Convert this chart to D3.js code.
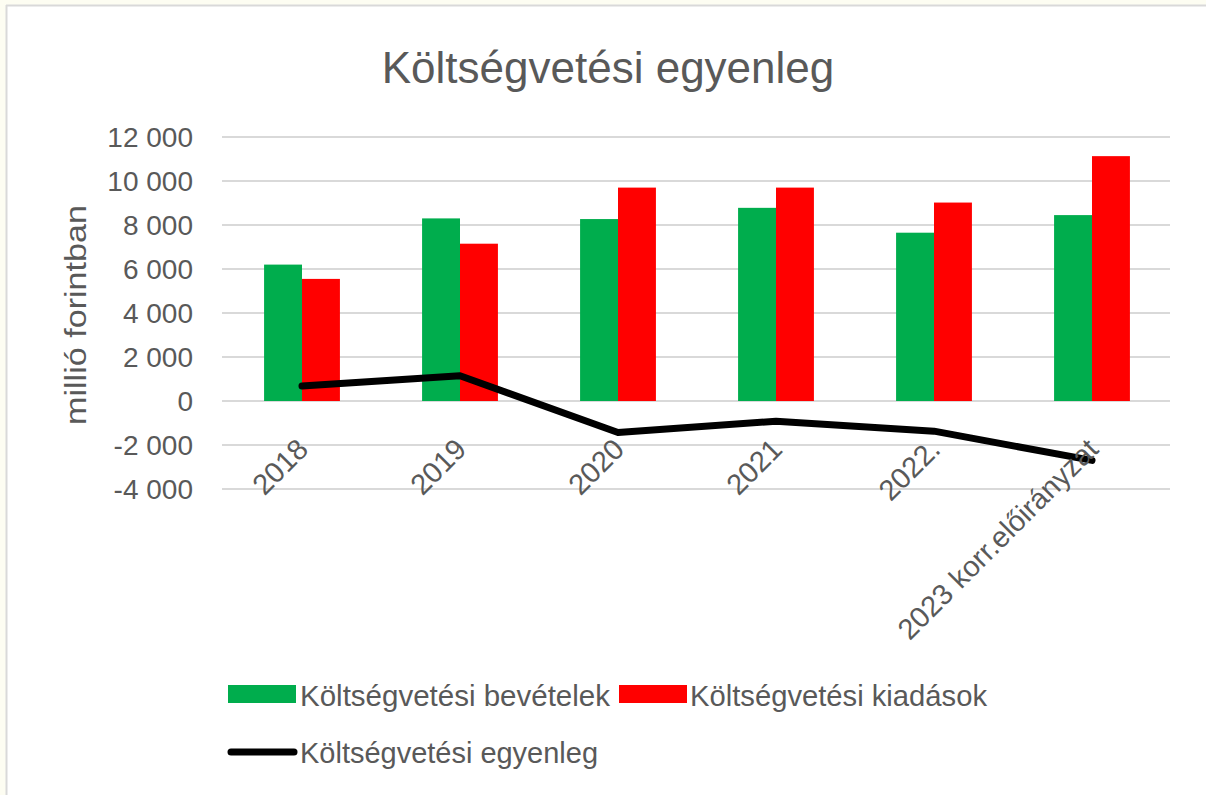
<!DOCTYPE html>
<html>
<head>
<meta charset="utf-8">
<script src="https://cdn.jsdelivr.net/npm/d3@7"></script>
<style>
  html, body { margin: 0; padding: 0; background: #fdfdf2; }
  svg { display: block; }
  text { font-family: "Liberation Sans", Arial, sans-serif; fill: #595959; }
</style>
</head>
<body>
<svg id="chart" width="1206" height="795"></svg>
<script>
const categories = ["2018", "2019", "2020", "2021", "2022.", "2023 korr.előirányzat"];
const revenues = [6200, 8300, 8270, 8780, 7650, 8450];      // Költségvetési bevételek
const expenditures = [5550, 7150, 9700, 9700, 9020, 11130]; // Költségvetési kiadások
const balance = [680, 1150, -1430, -920, -1370, -2700];     // Költségvetési egyenleg
const yTicks = [-4000, -2000, 0, 2000, 4000, 6000, 8000, 10000, 12000];
const seriesNames = ["Költségvetési bevételek", "Költségvetési kiadások", "Költségvetési egyenleg"];
const colors = ["#00ad4d", "#ff0000", "#000000"];
const title = "Költségvetési egyenleg";
const yTitle = "millió forintban";

const svg = d3.select("#chart");

// chart area background + border
svg.append("rect").attr("x", 6).attr("y", 5).attr("width", 1200).attr("height", 790).attr("fill", "#ffffff");
svg.append("line").attr("x1", 6).attr("x2", 1206).attr("y1", 5.5).attr("y2", 5.5).attr("stroke", "#d9d9d9").attr("stroke-width", 2);
svg.append("line").attr("x1", 6.5).attr("x2", 6.5).attr("y1", 5).attr("y2", 795).attr("stroke", "#d9d9d9").attr("stroke-width", 2);

const left = 223, right = 1171;
const y = d3.scaleLinear().domain([-4000, 12000]).range([489, 137]);
const x0 = d3.scaleBand().domain(categories).range([left, right]).paddingInner(0.52).paddingOuter(0.26);
const x1 = d3.scaleBand().domain([0, 1]).range([0, x0.bandwidth()]);

// title
svg.append("text").attr("x", 608).attr("y", 83).attr("text-anchor", "middle")
  .style("font-size", "44px").text(title);

// gridlines
svg.append("g").selectAll("line").data(yTicks).join("line")
  .attr("x1", left - 1).attr("x2", right - 1)
  .attr("y1", d => y(d)).attr("y2", d => y(d))
  .attr("stroke", "#d9d9d9").attr("stroke-width", 2);

// y axis labels
const fmt = d => (d < 0 ? "-" : "") + d3.format(",")(Math.abs(d)).replace(/,/g, " ");
const yAxis = d3.axisLeft(y).tickValues(yTicks).tickFormat(fmt).tickSize(0).tickPadding(0);
const yg = svg.append("g").attr("transform", "translate(193,0)").call(yAxis);
yg.select(".domain").remove();
yg.selectAll("text").style("font-size", "28px").attr("fill", "#595959").attr("dy", "0.34em")
  .style("font-family", "'Liberation Sans', Arial, sans-serif");

// y axis title
svg.append("text").attr("transform", "translate(86,315) rotate(-90)").attr("text-anchor", "middle")
  .style("font-size", "30px").attr("textLength", 220).attr("lengthAdjust", "spacingAndGlyphs").text(yTitle);

// bars
const barData = [revenues, expenditures];
barData.forEach((vals, si) => {
  svg.append("g").selectAll("rect").data(categories).join("rect")
    .attr("x", c => x0(c) + x1(si))
    .attr("width", x1.bandwidth())
    .attr("y", (c, i) => y(Math.max(0, vals[i])))
    .attr("height", (c, i) => Math.abs(y(vals[i]) - y(0)))
    .attr("fill", colors[si]);
});

// balance line
const line = d3.line().x((d, i) => x0(categories[i]) + x0.bandwidth() / 2).y(d => y(d));
svg.append("path").datum(balance).attr("d", line)
  .attr("fill", "none").attr("stroke", colors[2]).attr("stroke-width", 7)
  .attr("stroke-linecap", "round").attr("stroke-linejoin", "round");

// x labels
svg.append("g").selectAll("text").data(categories).join("text")
  .attr("transform", c => `translate(${x0(c) + x0.bandwidth() / 2 + 8},${y(0) + 50}) rotate(-45)`)
  .attr("text-anchor", "end")
  .style("font-size", "29px").text(c => c);

// legend
const lg = svg.append("g");
lg.append("rect").attr("x", 228).attr("y", 685).attr("width", 68).attr("height", 18).attr("fill", colors[0]);
lg.append("text").attr("x", 300).attr("y", 706).style("font-size", "29px")
  .attr("textLength", 310).attr("lengthAdjust", "spacingAndGlyphs").text(seriesNames[0]);
lg.append("rect").attr("x", 619).attr("y", 685).attr("width", 68).attr("height", 18).attr("fill", colors[1]);
lg.append("text").attr("x", 690).attr("y", 706).style("font-size", "29px")
  .attr("textLength", 297).attr("lengthAdjust", "spacingAndGlyphs").text(seriesNames[1]);
lg.append("line").attr("x1", 231).attr("x2", 294).attr("y1", 752).attr("y2", 752)
  .attr("stroke", colors[2]).attr("stroke-width", 7).attr("stroke-linecap", "round");
lg.append("text").attr("x", 300).attr("y", 763).style("font-size", "29px")
  .attr("textLength", 298).attr("lengthAdjust", "spacingAndGlyphs").text(seriesNames[2]);
</script>
</body>
</html>
